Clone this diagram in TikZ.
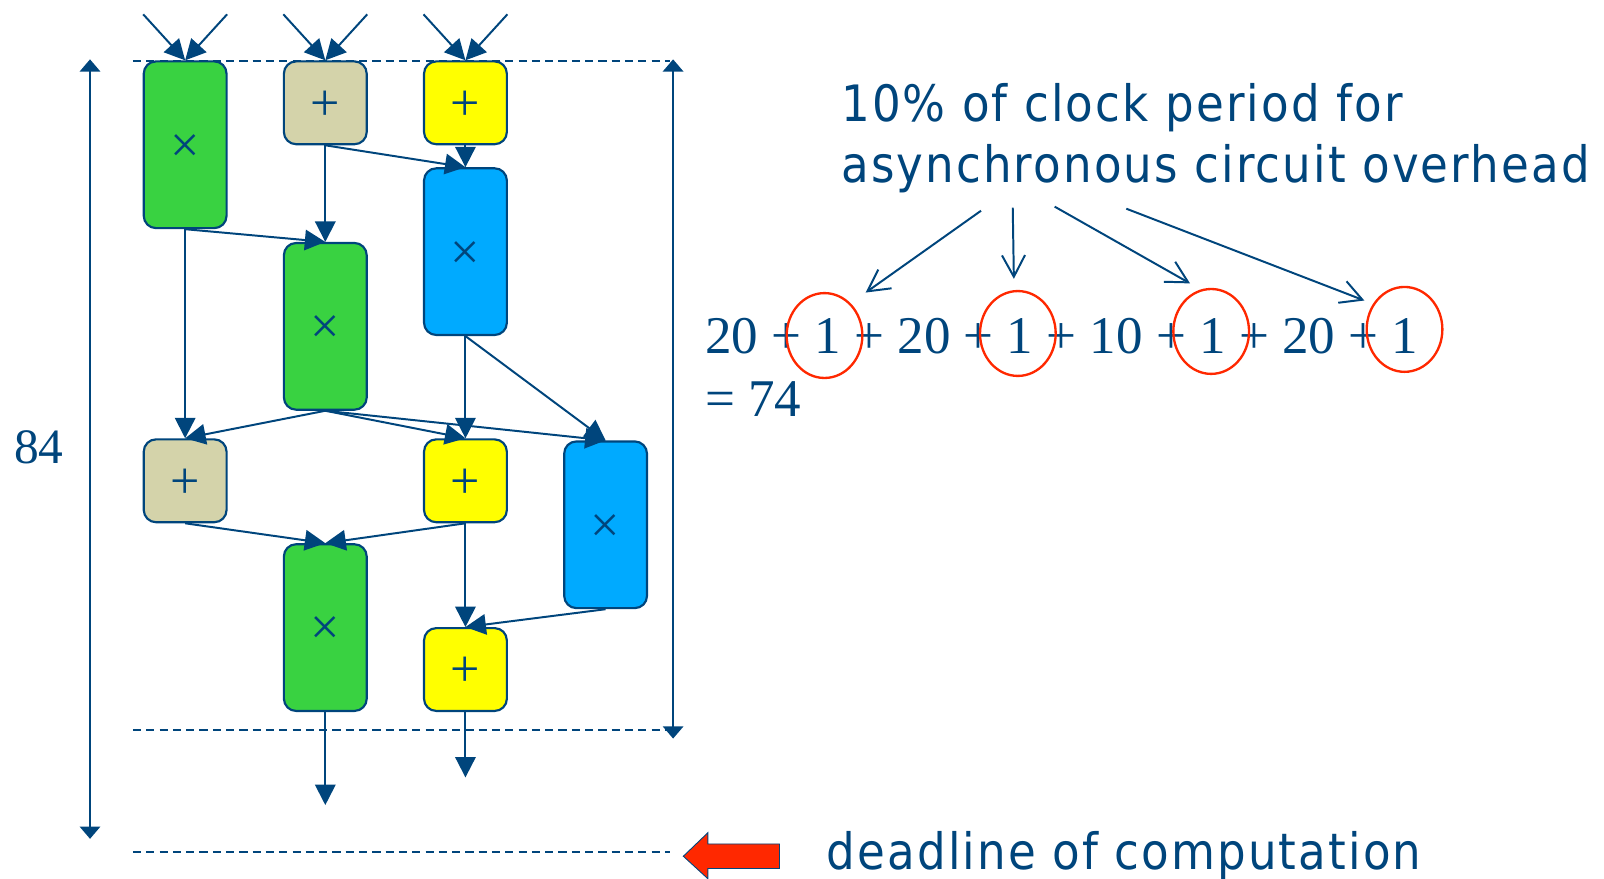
\documentclass[tikz,border=0pt]{standalone}
\usepackage{fontspec}
\setmainfont{Liberation Serif}
\newfontfamily\slidefont[LetterSpace=4.3]{DejaVu Sans Condensed}
\usetikzlibrary{arrows.meta,shapes.geometric}

\definecolor{ink}{RGB}{0,69,124}
\definecolor{mulgreen}{RGB}{57,210,65}
\definecolor{addtan}{RGB}{212,211,170}
\definecolor{addyellow}{RGB}{255,255,0}
\definecolor{mulblue}{RGB}{0,170,255}
\definecolor{alarm}{RGB}{255,40,0}

\begin{document}
\begin{tikzpicture}[
        x=0.02cm, y=-0.02cm,
        >={Triangle[length=0.4cm,width=0.4cm]},
        op/.style={rectangle, draw=ink, line width=1.2pt, rounded corners=0.24cm, minimum width=1.62cm, inner sep=0pt, text height=0.68cm, text depth=0pt, text=ink, font=\fontsize{29}{29}\selectfont},
        mul/.style={op, minimum height=3.26cm},
        add/.style={op, minimum height=1.62cm},
        edge/.style={->, draw=ink, line width=1.1pt},
        guide/.style={draw=ink, line width=1.1pt, dash pattern=on 0.16cm off 0.1cm},
        dim/.style={{Triangle[length=0.24cm,width=0.4cm]}-{Triangle[length=0.24cm,width=0.4cm]}, draw=ink, line width=1.1pt},
        note/.style={-{Straight Barb[length=0.42cm,width=0.45cm]}, draw=ink, line width=1.1pt},
        ring/.style={ellipse, draw=alarm, line width=1.3pt, minimum width=1.48cm, minimum height=1.66cm, inner sep=0pt},
        slide/.style={text=ink, inner sep=0pt, font=\slidefont\fontsize{27.9}{34.2}\selectfont}
    ]
    \useasboundingbox (0,0) rectangle (1568,859);

    % Operazioni
    \node[mul, fill=mulgreen]  (m1) at (181,141.5) {×};
    \node[add, fill=addtan]    (a1) at (318,100.5) {+};
    \node[add, fill=addyellow] (a2) at (455,100.5) {+};
    \node[mul, fill=mulblue]   (m2) at (455,246)   {×};
    \node[mul, fill=mulgreen]  (m3) at (318,319)   {×};
    \node[add, fill=addtan]    (a3) at (181,470)   {+};
    \node[add, fill=addyellow] (a4) at (455,470)   {+};
    \node[mul, fill=mulblue]   (m4) at (592,513)   {×};
    \node[mul, fill=mulgreen]  (m5) at (318,613.5) {×};
    \node[add, fill=addyellow] (a5) at (455,654.5) {+};

    % Ingressi e uscite
    \coordinate (i1) at (140,14);  \coordinate (i2) at (222,14);
    \coordinate (i3) at (277,14);  \coordinate (i4) at (359,14);
    \coordinate (i5) at (414,14);  \coordinate (i6) at (496,14);
    \coordinate (o1) at (318,787); \coordinate (o2) at (455,760);

    \draw[edge] (i1) -- (m1.north);
    \draw[edge] (i2) -- (m1.north);
    \draw[edge] (i3) -- (a1.north);
    \draw[edge] (i4) -- (a1.north);
    \draw[edge] (i5) -- (a2.north);
    \draw[edge] (i6) -- (a2.north);
    \draw[edge] (m5.south) -- (o1);
    \draw[edge] (a5.south) -- (o2);

    % Dipendenze
    \draw[edge] (a1.south) -- (m3.north);
    \draw[edge] (a1.south) -- (m2.north);
    \draw[edge] (a2.south) -- (m2.north);
    \draw[edge] (m1.south) -- (m3.north);
    \draw[edge] (m1.south) -- (a3.north);
    \draw[edge] (m3.south) -- (a3.north);
    \draw[edge] (m3.south) -- (a4.north);
    \draw[edge] (m3.south) -- (m4.north);
    \draw[edge] (m2.south) -- (a4.north);
    \draw[edge] (m2.south) -- (m4.north);
    \draw[edge] (a3.south) -- (m5.north);
    \draw[edge] (a4.south) -- (m5.north);
    \draw[edge] (a4.south) -- (a5.north);
    \draw[edge] (m4.south) -- (a5.north);

    % Linee di riferimento
    \draw[guide] (130,60) -- (655,60);
    \draw[guide] (130,714) -- (655,714);
    \draw[guide] (130,833) -- (655,833);

    \coordinate (d1) at (88,58);  \coordinate (d2) at (88,820);
    \coordinate (d3) at (658,58); \coordinate (d4) at (658,722);
    \draw[dim] (d1) -- (d2);
    \draw[dim] (d3) -- (d4);
    \node[text=ink, inner sep=0pt, font=\fontsize{27.5}{30}\selectfont] (span) at (38,437) {84};

    % Overhead
    \node[slide, anchor=north west, align=left] (overhead) at (822,81) {10\% of clock period for\\asynchronous circuit overhead};

    \node[text=ink, inner sep=0pt, anchor=base west, font=\fontsize{29.5}{32}\selectfont] (sum) at (689,346) {20 + 1 + 20 + 1 + 10 + 1 + 20 + 1};
    \node[text=ink, inner sep=0pt, anchor=base west, font=\fontsize{29.5}{32}\selectfont] (total) at (689,407) {= 74};

    \node[ring] (e1) at (806,328)  {};
    \node[ring] (e2) at (995,326)  {};
    \node[ring] (e3) at (1184,324) {};
    \node[ring] (e4) at (1373,322) {};

    \coordinate (s1) at (959,206);
    \coordinate (s2) at (990,203);
    \coordinate (s3) at (1031,202);
    \coordinate (s4) at (1101,204);
    \draw[note, shorten >=0.36cm] (s1) -- (e1.51);
    \draw[note, shorten >=0.22cm] (s2) -- (e2.95);
    \draw[note, shorten >=0.24cm] (s3) -- (e3.104);
    \draw[note, shorten >=0.18cm] (s4) -- (e4.141);

    % Scadenza
    \filldraw[fill=alarm, draw=ink, line width=0.5pt] (668,837) -- (692,814) -- (692,825) -- (762,825) -- (762,849) -- (692,849) -- (692,859) -- cycle;
    \node[slide, anchor=base west] (deadline) at (808,850) {deadline of computation};

\end{tikzpicture}
\end{document}
